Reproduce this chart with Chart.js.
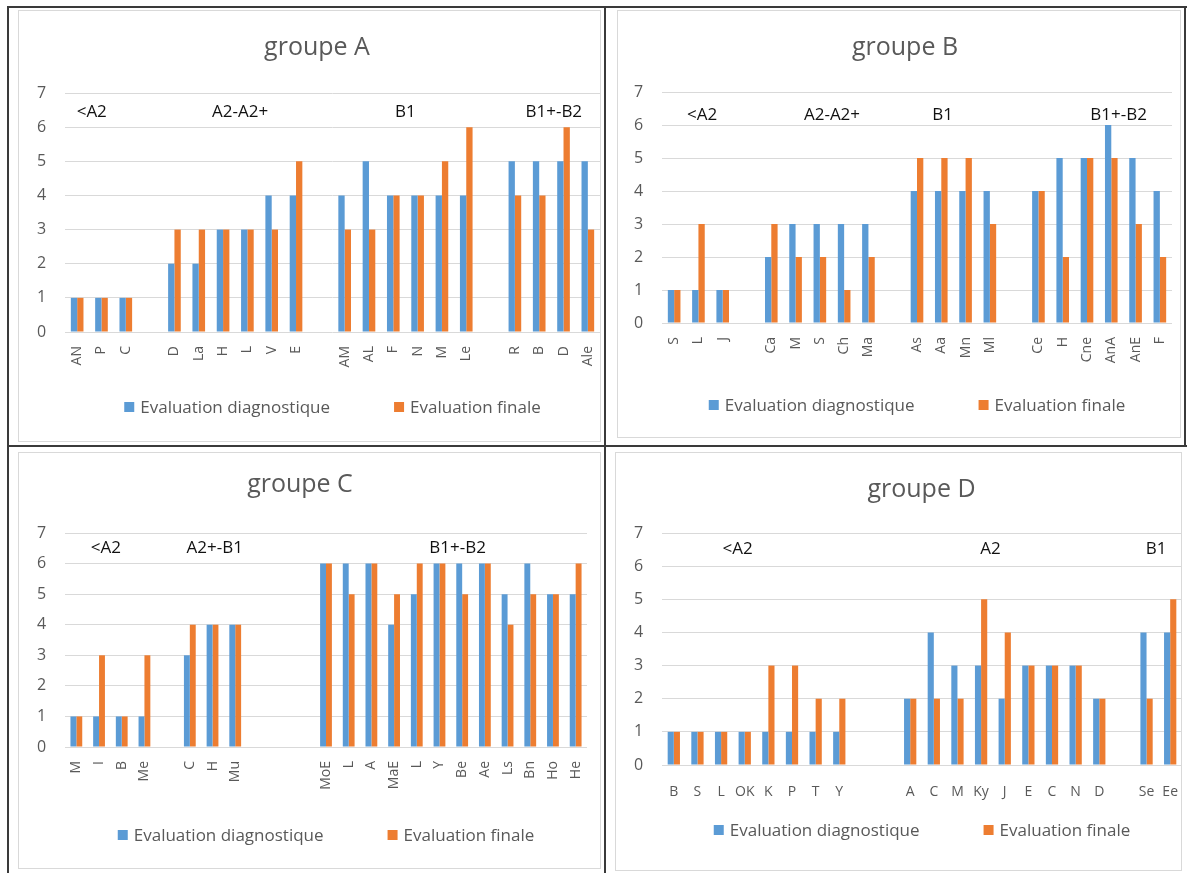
<!DOCTYPE html>
<html>
<head>
<meta charset="utf-8">
<script src="https://cdn.jsdelivr.net/npm/chart.js@4.4.1/dist/chart.umd.min.js"></script>
<style>
  body { margin: 0; background: #fff; width: 1189px; height: 873px; position: relative; overflow: hidden; }
  .panel { position: absolute; }
  .line { position: absolute; background: #3a3a3a; }
  .frame { position: absolute; border: 1px solid #d9d9d9; box-sizing: border-box; }
</style>
</head>
<body>
<div class="frame" style="left:18px;top:10px;width:583px;height:432px"></div>
<div class="frame" style="left:617px;top:10px;width:564px;height:428px"></div>
<div class="frame" style="left:18px;top:452px;width:583px;height:417px"></div>
<div class="frame" style="left:615px;top:452px;width:567px;height:419px"></div>

<div class="panel" style="left:10px;top:9px"><canvas id="chartA" width="594" height="436"></canvas></div>
<div class="panel" style="left:607px;top:9px"><canvas id="chartB" width="577" height="436"></canvas></div>
<div class="panel" style="left:10px;top:448px"><canvas id="chartC" width="594" height="425"></canvas></div>
<div class="panel" style="left:607px;top:448px"><canvas id="chartD" width="577" height="425"></canvas></div>

<div class="line" style="left:7px;top:6px;width:1180px;height:2px"></div>
<div class="line" style="left:7px;top:6px;width:2px;height:867px"></div>
<div class="line" style="left:1184px;top:6px;width:2px;height:441px"></div>
<div class="line" style="left:604px;top:6px;width:2px;height:867px"></div>
<div class="line" style="left:7px;top:445px;width:1180px;height:2px"></div>

<script>
// groupe A
var labelsA = ['AN', 'P', 'C', '', 'D', 'La', 'H', 'L', 'V', 'E', '', 'AM', 'AL', 'F', 'N', 'M', 'Le', '', 'R', 'B', 'D', 'Ale'];
var diagA  = [1, 1, 1, null, 2, 2, 3, 3, 4, 4, null, 4, 5, 4, 4, 4, 4, null, 5, 5, 5, 5];
var finalA = [1, 1, 1, null, 3, 3, 3, 3, 3, 5, null, 3, 3, 4, 4, 5, 6, null, 4, 4, 6, 3];
var levelsA = ['<A2', 'A2-A2+', 'B1', 'B1+-B2'];
var levelAtA = [0.6, 6.7, 13.5, 19.6];

// groupe B
var labelsB = ['S', 'L', 'J', '', 'Ca', 'M', 'S', 'Ch', 'Ma', '', 'As', 'Aa', 'Mn', 'Ml', '', 'Ce', 'H', 'Cne', 'AnA', 'AnE', 'F'];
var diagB  = [1, 1, 1, null, 2, 3, 3, 3, 3, null, 4, 4, 4, 4, null, 4, 5, 5, 6, 5, 4];
var finalB = [1, 3, 1, null, 3, 2, 2, 1, 2, null, 5, 5, 5, 3, null, 4, 2, 5, 5, 3, 2];
var levelsB = ['<A2', 'A2-A2+', 'B1', 'B1+-B2'];
var levelAtB = [1.15, 6.5, 11.05, 18.3];

// groupe C
var labelsC = ['M', 'I', 'B', 'Me', '', 'C', 'H', 'Mu', '', '', '', 'MoE', 'L', 'A', 'MaE', 'L', 'Y', 'Be', 'Ae', 'Ls', 'Bn', 'Ho', 'He'];
var diagC  = [1, 1, 1, 1, null, 3, 4, 4, null, null, null, 6, 6, 6, 4, 5, 6, 6, 6, 5, 6, 5, 5];
var finalC = [1, 3, 1, 3, null, 4, 4, 4, null, null, null, 6, 5, 6, 5, 6, 6, 5, 6, 4, 5, 5, 6];
var levelsC = ['<A2', 'A2+-B1', 'B1+-B2'];
var levelAtC = [1.3, 6.1, 16.8];

// groupe D
var labelsD = ['B', 'S', 'L', 'OK', 'K', 'P', 'T', 'Y', '', '', 'A', 'C', 'M', 'Ky', 'J', 'E', 'C', 'N', 'D', '', 'Se', 'Ee'];
var diagD  = [1, 1, 1, 1, 1, 1, 1, 1, null, null, 2, 4, 3, 3, 2, 3, 3, 3, 2, null, 4, 4];
var finalD = [1, 1, 1, 1, 3, 3, 2, 2, null, null, 2, 2, 2, 5, 4, 3, 3, 3, 2, null, 2, 5];
var levelsD = ['<A2', 'A2', 'B1'];
var levelAtD = [2.7, 13.4, 20.4];

var yTicks = [0, 1, 2, 3, 4, 5, 6, 7];
var seriesNames = ['Evaluation diagnostique', 'Evaluation finale'];

var blue = '#5b9bd5';
var orange = '#ed7d31';
var grey = '#595959';
var font = "'Open Sans', 'Noto Sans', sans-serif";

// level names (<A2, A2-A2+ ...) written inside the plot area
var groupLabelPlugin = {
  id: 'groupLabels',
  afterDatasetsDraw: function (chart, args, opts) {
    var ctx = chart.ctx;
    var xs = chart.scales.x, ys = chart.scales.y;
    ctx.save();
    ctx.font = '17px ' + font;
    ctx.fillStyle = '#111';
    ctx.textAlign = 'center';
    ctx.textBaseline = 'middle';
    opts.texts.forEach(function (t, i) {
      ctx.fillText(t, xs.getPixelForValue(opts.at[i]), ys.getPixelForValue(opts.y));
    });
    ctx.restore();
  }
};

// excel-like legend: wide gap between the two entries
var wideLegendPlugin = {
  id: 'wideLegend',
  afterDraw: function (chart, args, opts) {
    var ctx = chart.ctx, area = chart.chartArea;
    ctx.save();
    ctx.font = '17px ' + font;
    ctx.textBaseline = 'middle';
    var items = chart.data.datasets.map(function (ds) {
      return { text: ds.label, color: ds.backgroundColor, w: ctx.measureText(ds.label).width };
    });
    var total = opts.gap * (items.length - 1);
    items.forEach(function (it) { total += 16 + it.w; });
    var x = (area.left + area.right) / 2 - total / 2;
    items.forEach(function (it) {
      ctx.fillStyle = it.color;
      ctx.fillRect(x, opts.y - 5, 10, 10);
      ctx.fillStyle = grey;
      ctx.fillText(it.text, x + 16, opts.y + 1);
      x += 16 + it.w + opts.gap;
    });
    ctx.restore();
  }
};

function makeChart(id, title, labels, diag, fin, levels, levelAt, cfg) {
  var ctx = document.getElementById(id).getContext('2d');
  return new Chart(ctx, {
    type: 'bar',
    data: {
      labels: labels,
      datasets: [
        { label: seriesNames[0], data: diag, backgroundColor: blue },
        { label: seriesNames[1], data: fin, backgroundColor: orange }
      ]
    },
    options: {
      responsive: false,
      animation: false,
      categoryPercentage: 0.52,
      barPercentage: 1.0,
      layout: { padding: { left: cfg.padLeft, right: cfg.padRight, top: 0, bottom: cfg.padBottom } },
      scales: {
        x: {
          grid: { display: false },
          border: { display: false },
          ticks: {
            autoSkip: false,
            minRotation: cfg.rot, maxRotation: cfg.rot,
            padding: cfg.tickPad,
            color: grey,
            font: { family: font, size: 14 }
          },
          afterFit: function (s) { s.height = cfg.axisH; s.paddingLeft = 0; s.paddingRight = 0; }
        },
        y: {
          min: 0, max: 7,
          grid: { color: '#d9d9d9', drawTicks: false },
          border: { display: false },
          ticks: {
            autoSkip: false,
            stepSize: 1,
            // mirror + negative padding puts the numbers left of the plot
            // without being clipped by the (narrow) axis box
            mirror: true,
            padding: -28,
            color: grey,
            font: { family: font, size: 16 }
          },
          afterBuildTicks: function (s) { s.ticks = yTicks.map(function (v) { return { value: v }; }); },
          afterFit: function (s) { s.width = 55 - cfg.padLeft; s.paddingTop = 0; s.paddingBottom = 0; }
        }
      },
      plugins: {
        title: {
          display: true,
          text: title,
          color: grey,
          font: { family: font, size: 25, weight: 'normal' },
          padding: { top: cfg.titleTop, bottom: cfg.titleBottom }
        },
        legend: { display: false },
        tooltip: { enabled: false },
        groupLabels: { texts: levels, at: levelAt, y: cfg.levelY },
        wideLegend: { y: cfg.legendY, gap: 64 }
      }
    },
    plugins: [groupLabelPlugin, wideLegendPlugin]
  });
}

makeChart('chartA', 'groupe A', labelsA, diagA, finalA, levelsA, levelAtA,
  { padLeft: 24, padRight: 4, padBottom: 56, axisH: 57, titleTop: 24, titleBottom: 30, rot: 90, tickPad: 6, levelY: 6.45, legendY: 398 });
makeChart('chartB', 'groupe B', labelsB, diagB, finalB, levelsB, levelAtB,
  { padLeft: 31, padRight: 12, padBottom: 58, axisH: 64, titleTop: 24, titleBottom: 29, rot: 90, tickPad: 6, levelY: 6.3, legendY: 396 });
makeChart('chartC', 'groupe C', labelsC, diagC, finalC, levelsC, levelAtC,
  { padLeft: 3, padRight: 17, padBottom: 56, axisH: 70, titleTop: 22, titleBottom: 33, rot: 90, tickPad: 6, levelY: 6.5, legendY: 387 });
makeChart('chartD', 'groupe D', labelsD, diagD, finalD, levelsD, levelAtD,
  { padLeft: 54, padRight: 2, padBottom: 61, axisH: 47, titleTop: 27, titleBottom: 28, rot: 0, tickPad: 11, levelY: 6.5, legendY: 382 });
</script>
</body>
</html>
